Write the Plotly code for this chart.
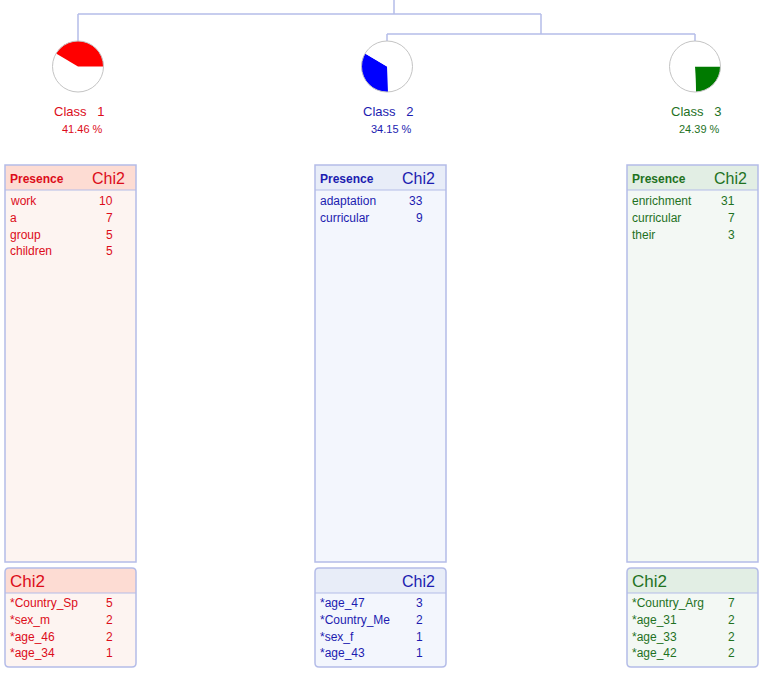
import plotly.graph_objects as go

# =========================
# DATA
# =========================
class_names = ["Class   1", "Class   2", "Class   3"]
class_pct = [41.46, 34.15, 24.39]

presence_words = [
    ["work", "a", "group", "children"],
    ["adaptation", "curricular"],
    ["enrichment", "curricular", "their"],
]
presence_chi2 = [
    [10, 7, 5, 5],
    [33, 9],
    [31, 7, 3],
]

modality_words = [
    ["*Country_Sp", "*sex_m", "*age_46", "*age_34"],
    ["*age_47", "*Country_Me", "*sex_f", "*age_43"],
    ["*Country_Arg", "*age_31", "*age_33", "*age_42"],
]
modality_chi2 = [
    [5, 2, 2, 1],
    [3, 2, 1, 1],
    [7, 2, 2, 2],
]

# =========================
# STYLE / LAYOUT
# =========================
W, H = 765, 683
FONT = "Liberation Sans, Arial, sans-serif"
BORDER = "#b4bce8"

text_colors = ["#dc0c1a", "#1c1cb0", "#1f721f"]
pie_colors = ["#ff0000", "#0000ff", "#007a00"]
head_fills = ["#fddcd3", "#e8edf8", "#e2eee4"]
body_fills = ["#fdf4f1", "#f3f6fd", "#f3f8f4"]

pie_cx = [78, 387, 695]
pie_cy = 66.5
pie_r = 25.5

box_left = [5, 315, 627]
box_w = 131
# top (Presence) box and bottom (Chi2) box
top_y0, top_head, top_y1 = 165, 190, 562
bot_y0, bot_head, bot_y1 = 568, 593, 667
row_step = 16.8
# bottom header "Chi2" alignment per box
bot_head_align = ["left", "right", "left"]


def rounded_rect(x0, y0, x1, y1, r):
    return (f"M {x0+r},{y0} L {x1-r},{y0} Q {x1},{y0} {x1},{y0+r} "
            f"L {x1},{y1-r} Q {x1},{y1} {x1-r},{y1} L {x0+r},{y1} "
            f"Q {x0},{y1} {x0},{y1-r} L {x0},{y0+r} Q {x0},{y0} {x0+r},{y0} Z")


def rounded_top(x0, y0, x1, y1, r):
    return (f"M {x0},{y1} L {x0},{y0+r} Q {x0},{y0} {x0+r},{y0} "
            f"L {x1-r},{y0} Q {x1},{y0} {x1},{y0+r} L {x1},{y1} Z")


fig = go.Figure()
shapes = []
annotations = []

# dendrogram (scatter so the cartesian axes exist)
top = pie_cy - pie_r
dx = [394, 394, None, pie_cx[0], 541, None, pie_cx[0], pie_cx[0], None, 541, 541, None,
      pie_cx[1], pie_cx[2], None, pie_cx[1], pie_cx[1], None, pie_cx[2], pie_cx[2]]
dy = [0, 14, None, 14, 14, None, 14, top, None, 14, 34, None,
      34, 34, None, 34, top, None, 34, top]
fig.add_trace(go.Scatter(x=dx, y=dy, mode="lines", line=dict(color=BORDER, width=1.5),
                         hoverinfo="skip", showlegend=False))

# pies: clockwise from 3 o'clock, so class order is reversed
for i in range(3):
    colors = ["white"] * 3
    colors[i] = pie_colors[i]
    fig.add_trace(go.Pie(
        values=class_pct[::-1],
        labels=class_names[::-1],
        sort=False,
        direction="clockwise",
        rotation=90,
        marker=dict(colors=colors[::-1], line=dict(width=0)),
        textinfo="none",
        hoverinfo="skip",
        showlegend=False,
        domain=dict(
            x=[(pie_cx[i] - pie_r) / W, (pie_cx[i] + pie_r) / W],
            y=[1 - (pie_cy + pie_r) / H, 1 - (pie_cy - pie_r) / H],
        ),
    ))
    shapes.append(dict(type="circle", x0=pie_cx[i] - pie_r, x1=pie_cx[i] + pie_r,
                       y0=pie_cy - pie_r, y1=pie_cy + pie_r,
                       line=dict(color="#c4c4c4", width=1), layer="above"))
    annotations.append(dict(x=pie_cx[i] + 1, y=111, text=class_names[i].replace(" ", "&nbsp;"),
                            showarrow=False, xanchor="center", yanchor="middle",
                            font=dict(family=FONT, size=13, color=text_colors[i])))
    annotations.append(dict(x=pie_cx[i] + 4, y=128.5, text=f"{class_pct[i]:.2f} %",
                            showarrow=False, xanchor="center", yanchor="middle",
                            font=dict(family=FONT, size=11, color=text_colors[i])))

# boxes
for i in range(3):
    x0 = box_left[i]
    x1 = x0 + box_w
    c = text_colors[i]

    # Presence box
    shapes.append(dict(type="rect", x0=x0, x1=x1, y0=top_y0, y1=top_y1,
                       fillcolor=body_fills[i], line=dict(width=0), layer="below"))
    shapes.append(dict(type="rect", x0=x0, x1=x1, y0=top_y0, y1=top_head,
                       fillcolor=head_fills[i], line=dict(width=0), layer="below"))
    shapes.append(dict(type="line", x0=x0, x1=x1, y0=top_head, y1=top_head,
                       line=dict(color=BORDER, width=1)))
    shapes.append(dict(type="rect", x0=x0, x1=x1, y0=top_y0, y1=top_y1,
                       line=dict(color=BORDER, width=1.5)))
    annotations.append(dict(x=x0 + 3, y=178.5, text="<b>Presence</b>", showarrow=False,
                            xanchor="left", yanchor="middle",
                            font=dict(family=FONT, size=12, color=c)))
    annotations.append(dict(x=x0 + 122, y=178, text="Chi2", showarrow=False,
                            xanchor="right", yanchor="middle",
                            font=dict(family=FONT, size=16, color=c)))
    for k, (w, v) in enumerate(zip(presence_words[i], presence_chi2[i])):
        yy = 201 + k * row_step
        annotations.append(dict(x=x0 + 3, y=yy, text=w, showarrow=False,
                                xanchor="left", yanchor="middle",
                                font=dict(family=FONT, size=12, color=c)))
        annotations.append(dict(x=x0 + 110, y=yy, text=str(v), showarrow=False,
                                xanchor="right", yanchor="middle",
                                font=dict(family=FONT, size=12, color=c)))

    # Chi2 box
    shapes.append(dict(type="path", path=rounded_rect(x0, bot_y0, x1, bot_y1, 4),
                       fillcolor=body_fills[i], line=dict(width=0), layer="below"))
    shapes.append(dict(type="path", path=rounded_top(x0, bot_y0, x1, bot_head, 4),
                       fillcolor=head_fills[i], line=dict(width=0), layer="below"))
    shapes.append(dict(type="line", x0=x0, x1=x1, y0=bot_head, y1=bot_head,
                       line=dict(color=BORDER, width=1)))
    shapes.append(dict(type="path", path=rounded_rect(x0, bot_y0, x1, bot_y1, 4),
                       line=dict(color=BORDER, width=1.5)))
    if bot_head_align[i] == "left":
        annotations.append(dict(x=x0 + 3, y=581.5, text="Chi2", showarrow=False,
                                xanchor="left", yanchor="middle",
                                font=dict(family=FONT, size=17, color=c)))
    else:
        annotations.append(dict(x=x0 + 122, y=581.5, text="Chi2", showarrow=False,
                                xanchor="right", yanchor="middle",
                                font=dict(family=FONT, size=16, color=c)))
    for k, (w, v) in enumerate(zip(modality_words[i], modality_chi2[i])):
        yy = 603 + k * row_step
        annotations.append(dict(x=x0 + 3, y=yy, text=w, showarrow=False,
                                xanchor="left", yanchor="middle",
                                font=dict(family=FONT, size=12, color=c)))
        annotations.append(dict(x=x0 + 110, y=yy, text=str(v), showarrow=False,
                                xanchor="right", yanchor="middle",
                                font=dict(family=FONT, size=12, color=c)))

fig.update_layout(
    width=W, height=H,
    margin=dict(l=0, r=0, t=0, b=0),
    paper_bgcolor="white", plot_bgcolor="white",
    xaxis=dict(range=[0, W], visible=False, fixedrange=True),
    yaxis=dict(range=[H, 0], visible=False, fixedrange=True),
    shapes=shapes,
    annotations=annotations,
    showlegend=False,
)

# no page margin, so the figure fills the window; no modebar
fig.write_html("out.html", config={"displayModeBar": False},
               post_script="document.body.style.margin='0px';")
